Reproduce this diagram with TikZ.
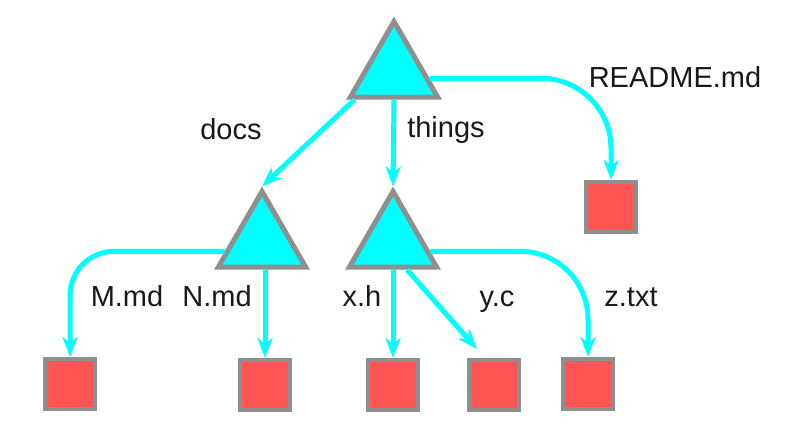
\documentclass[tikz,border=0pt]{standalone}
\usepackage{fontspec}
\setmainfont{Liberation Sans}
\usetikzlibrary{shapes.geometric,arrows.meta,calc}
\definecolor{tricyan}{HTML}{00FFFF}
\definecolor{edgegray}{HTML}{8F8F8F}
\definecolor{boxred}{HTML}{FF5555}
\begin{document}
\begin{tikzpicture}[x=0.5pt,y=-0.5pt,
  dirnode/.style={regular polygon,regular polygon sides=3,minimum size=50.5pt,inner sep=0pt,
    draw=edgegray,line width=2.5pt,fill=tricyan},
  filenode/.style={rectangle,minimum size=25pt,inner sep=0pt,draw=edgegray,line width=2pt,fill=boxred},
  edge/.style={draw=tricyan,line width=2.5pt,-{Stealth[length=10pt,width=7.5pt,inset=3pt]}},
  lbl/.style={anchor=base,inner sep=0pt,font=\fontsize{14.5}{17}\selectfont,text=black!90}]
\useasboundingbox (0,0) rectangle (786,442);
% directories
\node[dirnode] (root) at (394,72) {};
\node[dirnode] (docs) at (262,242) {};
\node[dirnode] (things) at (393,242) {};
% files
\node[filenode] (readme) at (611,207) {};
\node[filenode] (mmd) at (70,384) {};
\node[filenode] (nmd) at (265,385) {};
\node[filenode] (xh) at (393,385) {};
\node[filenode] (yc) at (494,385) {};
\node[filenode] (zt) at (588,384) {};
% connectors
\draw[edge] (root.215) -- (docs.north);
\draw[edge] (root.south) -- (things.north);
\draw[edge,rounded corners=35pt] (root.-10) -| (readme.north);
\draw[edge,rounded corners=22pt] (docs.194) -| (mmd.north);
\draw[edge] (docs.south -| nmd.north) -- (nmd.north);
\draw[edge] (things.south) -- (xh.north);
\draw[edge] ($(things.south)+(14,0)$) -- ($(yc.north west)+(10,-9)$);
\draw[edge,rounded corners=34pt] (things.-14) -| (zt.north);
% labels
\node[lbl] (ldocs) at (231,140) {docs};
\node[lbl] (lthings) at (446,138) {things};
\node[lbl] (lreadme) at (675,88) {README.md};
\node[lbl] (lm) at (127,307) {M.md};
\node[lbl] (ln) at (217,307) {N.md};
\node[lbl] (lx) at (362,307) {x.h};
\node[lbl] (ly) at (497,307) {y.c};
\node[lbl] (lz) at (631,307) {z.txt};
\end{tikzpicture}
\end{document}
